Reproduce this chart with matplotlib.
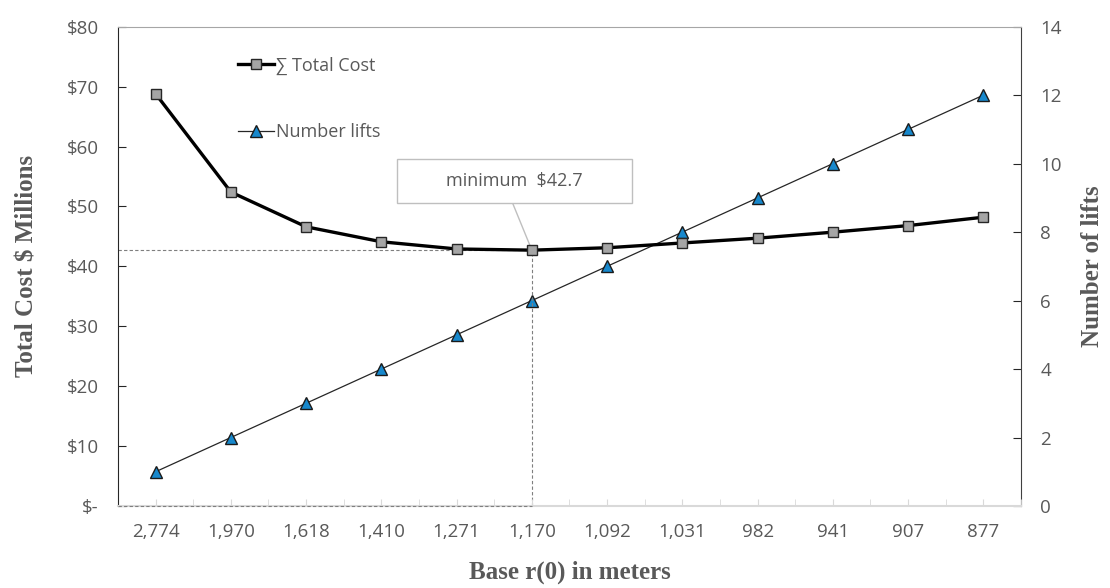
import matplotlib
matplotlib.use('Agg')
import matplotlib.pyplot as plt
from matplotlib.patches import Rectangle
from matplotlib.ticker import FuncFormatter, MultipleLocator

# Data
base_r0 = ['2,774', '1,970', '1,618', '1,410', '1,271', '1,170',
           '1,092', '1,031', '982', '941', '907', '877']
total_cost = [68.8, 52.4, 46.6, 44.1, 42.9, 42.7,
              43.1, 43.9, 44.7, 45.7, 46.8, 48.2]
number_lifts = [1, 2, 3, 4, 5, 6, 7, 8, 9, 10, 11, 12]
min_label = 'minimum  $42.7'

text_grey = '#595959'
tick_font = 'Open Sans'
label_font = 'Liberation Serif'

fig = plt.figure(figsize=(11.10, 5.88), dpi=100)
ax = fig.add_axes([0.1063, 0.1395, 0.8135, 0.8151])
ax2 = ax.twinx()

x = list(range(len(base_r0)))
imin = total_cost.index(min(total_cost))
cmin = total_cost[imin]

# Drop lines to the minimum
ax.plot([-0.5, imin], [cmin, cmin], color='#7f7f7f', lw=0.8, ls=(0, (3, 2)), zorder=1)
ax.plot([imin, imin], [0, cmin], color='#7f7f7f', lw=0.8, ls=(0, (3, 2)), zorder=1)
ax.plot([-0.5, imin], [0, 0], color='#7f7f7f', lw=0.8, ls=(0, (3, 2)), zorder=3, clip_on=False)

l1, = ax.plot(x, total_cost, color='black', lw=2.4, marker='s', markersize=7.5,
              markerfacecolor='#a5a5a5', markeredgecolor='#262626', markeredgewidth=1.0,
              label='∑ Total Cost', zorder=4)
l2, = ax2.plot(x, number_lifts, color='#262626', lw=0.9, marker='^', markersize=8,
               markerfacecolor='#1788cc', markeredgecolor='#1a1a1a', markeredgewidth=1.0,
               label='Number lifts', zorder=4)

ax.set_xlim(-0.5, len(base_r0) - 0.5)
ax.set_ylim(0, 80)
ax2.set_ylim(0, 14)
ax.set_zorder(ax2.get_zorder() + 1)
ax.patch.set_visible(False)

ax.set_xticks(x)
ax.set_xticklabels(base_r0)
ax.set_xticks([i - 0.5 for i in range(len(base_r0) + 1)], minor=True)
ax.yaxis.set_major_locator(MultipleLocator(10))
ax.yaxis.set_major_formatter(FuncFormatter(lambda v, p: '$-' if v == 0 else f'${v:.0f}'))
ax2.yaxis.set_major_locator(MultipleLocator(2))

for a in (ax, ax2):
    for s in a.spines.values():
        s.set_visible(False)

ax.spines['left'].set_visible(True)
ax.spines['left'].set_color('#262626')
ax.spines['bottom'].set_visible(True)
ax.spines['bottom'].set_color('#d9d9d9')
ax.spines['bottom'].set_linewidth(1.5)
ax.spines['top'].set_visible(True)
ax.spines['top'].set_color('#a6a6a6')
ax2.spines['right'].set_visible(True)
ax2.spines['right'].set_color('#404040')

ax.tick_params(axis='y', direction='in', length=6, color='#262626', pad=14,
               labelsize=13.5, labelcolor=text_grey)
ax.tick_params(axis='x', which='both', direction='in', length=5, color='#d9d9d9', pad=12,
               labelsize=13.5, labelcolor=text_grey)
ax2.tick_params(axis='y', direction='in', length=6, color='#262626', pad=14,
                labelsize=13.5, labelcolor=text_grey)
for lab in ax.get_xticklabels() + ax.get_yticklabels() + ax2.get_yticklabels():
    lab.set_fontfamily(tick_font)

ax.set_xlabel('Base r(0) in meters', fontsize=18, fontweight='bold', color=text_grey,
              family=label_font, labelpad=14)
ax.set_ylabel('Total Cost $ Millions', fontsize=18, fontweight='bold', color=text_grey,
              family=label_font, labelpad=20)
ax2.set_ylabel('Number of lifts', fontsize=18, fontweight='bold', color=text_grey,
               family=label_font, labelpad=14)

leg = ax.legend(handles=[l1, l2], loc='upper left', bbox_to_anchor=(0.115, 0.972),
                frameon=False, labelspacing=2.7, handlelength=2.0, handletextpad=0.1,
                prop={'family': tick_font, 'size': 13})
for t in leg.get_texts():
    t.set_color(text_grey)

# Callout box for the minimum
ax.add_patch(Rectangle((0.309, 0.632), 0.26, 0.092, transform=ax.transAxes,
                       facecolor='white', edgecolor='#bfbfbf', lw=1.0, zorder=5))
ax.text(0.439, 0.678, min_label, transform=ax.transAxes, ha='center', va='center',
        fontsize=13, color=text_grey, family=tick_font, zorder=6)
ax.annotate('', xy=(imin, cmin), xycoords='data', xytext=(0.437, 0.632),
            textcoords='axes fraction',
            arrowprops=dict(arrowstyle='-', color='#bfbfbf', lw=1.0, shrinkA=0, shrinkB=3))

fig.savefig('out.png', dpi=100)
